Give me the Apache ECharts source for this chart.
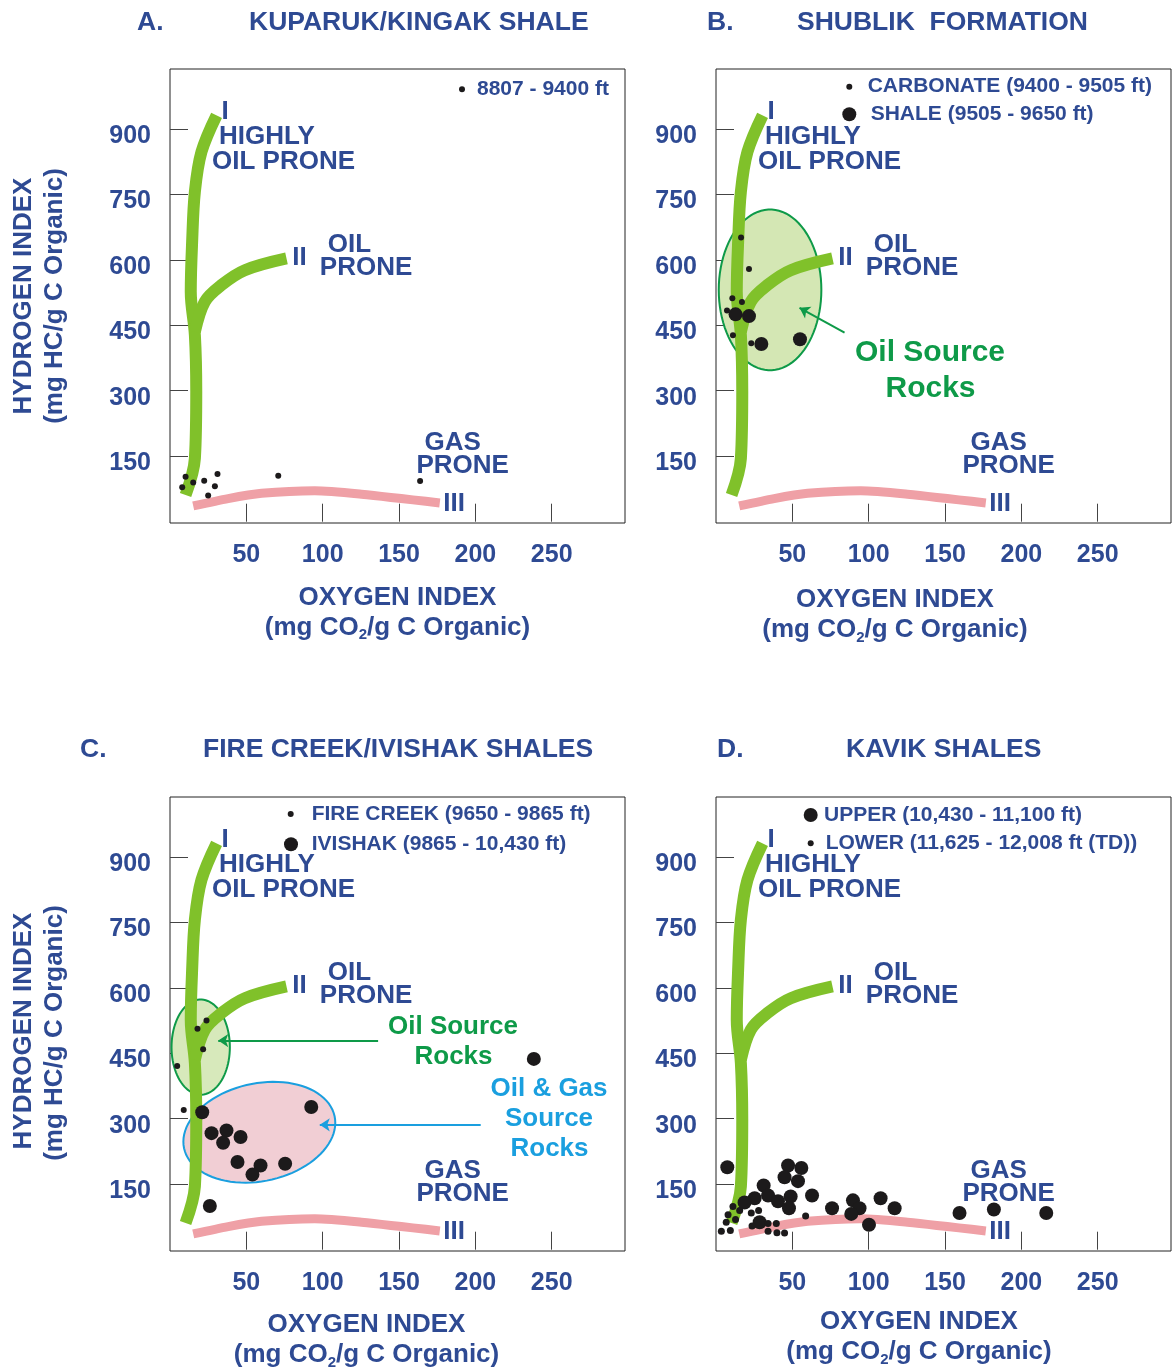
<!DOCTYPE html>
<html>
<head>
<meta charset="utf-8">
<script src="https://cdn.jsdelivr.net/npm/echarts@6/dist/echarts.min.js"></script>
<style>
  html, body { margin: 0; padding: 0; background: #fff; }
  #main { width: 1175px; height: 1372px; }
</style>
</head>
<body>
<div id="main"></div>
<script>
// axis ticks
var xTicks = [50, 100, 150, 200, 250];
var yTicks = [150, 300, 450, 600, 750, 900];

// kerogen type reference curves [OI, HI]
var typeI = [[10.2, 61], [16.3, 145], [17.2, 298], [16.3, 427], [13.6, 527], [14.5, 641], [16.3, 756], [20.6, 847], [30.5, 931]];
var typeII = [[16.3, 435], [22.8, 504], [33.7, 542], [49, 576], [76.3, 603]];
var typeIII = [[15.2, 36], [38.1, 53], [60, 65], [94.8, 71], [125.4, 63], [176.7, 43]];

// A. Kuparuk/Kingak shale
var kuparuk = [[10.2, 103], [8, 79], [15.2, 90], [22.4, 94], [31.1, 109], [29.4, 81], [25, 60], [70.9, 105], [163.8, 93]];
// B. Shublik formation
var carbonate = [[16.4, 651], [21.6, 579], [10.7, 512], [17, 503], [7.2, 484], [11.1, 427], [23.1, 409]];
var shale = [[12.8, 475], [21.6, 471], [29.7, 407], [55, 418]];
// C. Fire Creek/Ivishak shales
var fireCreek = [[23.9, 525], [18, 506], [21.7, 459], [4.7, 421], [9, 320]];
var ivishak = [[21.1, 315], [92.5, 327], [27.2, 267], [37, 273], [34.8, 245], [46.2, 258], [44.2, 201], [59.3, 193],
  [54, 172], [75.4, 197], [26.1, 100], [238.3, 437]];
// D. Kavik shales
var kavikUpper = [[7.4, 189], [47.2, 193], [55.9, 187], [44.9, 166], [53.7, 157], [31.2, 147], [34.1, 124], [25.3, 118],
  [18.7, 108], [40.6, 111], [48.9, 122], [47.8, 95], [62.9, 124], [76, 95], [89.7, 113], [94, 95], [88.6, 82],
  [107.8, 118], [117, 95], [100.2, 57], [28.6, 63], [159.5, 84], [182, 92], [216.3, 84]];
var kavikLower = [[3.5, 42], [9.4, 44], [6.7, 63], [12.8, 69], [7.9, 80], [11.1, 99], [15.5, 90], [23.1, 84], [27.9, 90],
  [23.6, 54], [34.1, 60], [39.5, 60], [34.1, 42], [39.9, 39], [44.9, 38], [58.7, 77]];

// source rock fields [OI, HI, radius OI, radius HI, tilt deg]
var oilSourceB = [[35.4, 531, 33.6, 184, 0]];
var oilSourceC = [[20.1, 464, 19.1, 109, 0]];
var oilGasSourceC = [[58.5, 269, 50.4, 112, 12]];
var arrowB = [[84.2, 433], [54.7, 490]];
var arrowOilC = [[136.3, 479], [31.6, 479]];
var arrowGasC = [[203.5, 286], [98.1, 286]];

var BLUE = '#2e4a93';
var GREEN = '#0e9a48';
var CYAN = '#1a9fdf';
var FONT = '"Liberation Sans", Arial, sans-serif';

var panels = [
  { left: 170, top: 69 },
  { left: 716, top: 69 },
  { left: 170, top: 797 },
  { left: 716, top: 797 }
];

var chart = echarts.init(document.getElementById('main'));

var grids = [], xAxes = [], yAxes = [], series = [], graphics = [];

panels.forEach(function (p, i) {
  grids.push({ left: p.left, top: p.top, width: 455, height: 454, show: true, borderColor: '#222', borderWidth: 1 });
  xAxes.push({
    type: 'value', gridIndex: i, min: 0, max: 298,
    axisLine: { show: false }, splitLine: { show: false },
    axisTick: { inside: true, length: 18, customValues: xTicks, lineStyle: { color: '#444' } },
    axisLabel: { customValues: xTicks, margin: 20, color: BLUE, fontSize: 25, fontWeight: 'bold', fontFamily: FONT }
  });
  yAxes.push({
    type: 'value', gridIndex: i, min: -3, max: 1037,
    axisLine: { show: false }, splitLine: { show: false },
    axisTick: { inside: true, length: 18, customValues: yTicks, lineStyle: { color: '#444' } },
    axisLabel: { customValues: yTicks, margin: 19, verticalAlign: 'top', lineHeight: 14,
      color: BLUE, fontSize: 25, fontWeight: 'bold', fontFamily: FONT }
  });
  // reference curves
  [typeI, typeII].forEach(function (c) {
    series.push({ type: 'line', xAxisIndex: i, yAxisIndex: i, data: c, smooth: 0.35, symbol: 'none', silent: true,
      lineStyle: { color: '#80c12a', width: 12, cap: 'butt' }, z: 3 });
  });
  series.push({ type: 'line', xAxisIndex: i, yAxisIndex: i, data: typeIII, smooth: 0.25, symbol: 'none', silent: true,
    lineStyle: { color: '#efa0a6', width: 9, cap: 'butt' }, z: 3 });
});

function ellipse(idx, data, fill, stroke) {
  return {
    type: 'custom', xAxisIndex: idx, yAxisIndex: idx, data: data, silent: true, z: 2,
    renderItem: function (params, api) {
      var c = api.coord([api.value(0), api.value(1)]);
      var s = api.size([api.value(2), api.value(3)]);
      var a = api.value(4) * Math.PI / 180;
      var pts = [];
      for (var k = 0; k < 90; k++) {
        var t = k / 90 * Math.PI * 2;
        var ex = s[0] * Math.cos(t), ey = s[1] * Math.sin(t);
        pts.push([c[0] + ex * Math.cos(a) + ey * Math.sin(a), c[1] - ex * Math.sin(a) + ey * Math.cos(a)]);
      }
      return { type: 'polygon', shape: { points: pts }, style: { fill: fill, stroke: stroke, lineWidth: 2 } };
    }
  };
}

function dots(idx, name, data, size) {
  return { type: 'scatter', name: name, xAxisIndex: idx, yAxisIndex: idx, data: data, symbolSize: size,
    itemStyle: { color: '#1c1a1b', opacity: 1 }, silent: true, z: 5 };
}

function arrow(idx, coords, color) {
  return { type: 'lines', coordinateSystem: 'cartesian2d', xAxisIndex: idx, yAxisIndex: idx, silent: true, z: 4,
    symbol: ['none', 'arrow'], symbolSize: 10, lineStyle: { color: color, width: 2, opacity: 1 },
    data: [{ coords: coords }] };
}

series.push(ellipse(1, oilSourceB, '#d4e7b4', GREEN));
series.push(ellipse(2, oilSourceC, '#d7e9bb', GREEN));
series.push(ellipse(2, oilGasSourceC, '#f1ced4', CYAN));
series.push(arrow(1, arrowB, GREEN));
series.push(arrow(2, arrowOilC, GREEN));
series.push(arrow(2, arrowGasC, CYAN));
series.push(dots(0, '8807 - 9400 ft', kuparuk, 6));
series.push(dots(1, 'CARBONATE (9400 - 9505 ft)', carbonate, 6));
series.push(dots(1, 'SHALE (9505 - 9650 ft)', shale, 14));
series.push(dots(2, 'FIRE CREEK (9650 - 9865 ft)', fireCreek, 6));
series.push(dots(2, 'IVISHAK (9865 - 10,430 ft)', ivishak, 14));
series.push(dots(3, 'UPPER (10,430 - 11,100 ft)', kavikUpper, 14));
series.push(dots(3, 'LOWER (11,625 - 12,008 ft (TD))', kavikLower, 7));

function txt(x, y, text, size, color, align, extra) {
  var el = { type: 'text', x: x, y: y, silent: true, z: 10,
    style: { text: text, fill: color || BLUE, fontSize: size, fontWeight: 'bold', fontFamily: FONT,
      align: align || 'left', verticalAlign: 'middle' } };
  if (extra) Object.keys(extra).forEach(function (k) { el[k] = extra[k]; });
  return el;
}

// panel titles
[[137, 23, 'A.'], [249, 23, 'KUPARUK/KINGAK SHALE'], [707, 23, 'B.'], [797, 23, 'SHUBLIK  FORMATION'],
 [80, 750, 'C.'], [203, 750, 'FIRE CREEK/IVISHAK SHALES'], [717, 750, 'D.'], [846, 750, 'KAVIK SHALES']]
  .forEach(function (t) { graphics.push(txt(t[0], t[1], t[2], 26.5)); });

// kerogen labels, same spot in every panel
var kerogenLabels = [[51.6, 43, 'I'], [49, 68.3, 'HIGHLY'], [42, 92.7, 'OIL PRONE'], [122.3, 189.3, 'II'],
  [157.8, 176, 'OIL'], [149.8, 199.3, 'PRONE'], [254.6, 374.3, 'GAS'], [246.4, 397, 'PRONE'], [273.3, 435.3, 'III']];
panels.forEach(function (p) {
  kerogenLabels.forEach(function (t) { graphics.push(txt(p.left + t[0], p.top + t[1], t[2], 26)); });
});

// axis names
var sub = { s: { fontSize: 15, fontWeight: 'bold', fontFamily: FONT, fill: BLUE, verticalAlign: 'bottom', lineHeight: 15 } };
[[397.5, 597.5], [895, 600], [366.5, 1325], [919, 1322]].forEach(function (c) {
  graphics.push(txt(c[0], c[1], 'OXYGEN INDEX', 26, BLUE, 'center'));
  var el = txt(c[0], c[1] + 30, '(mg CO{s|2}/g C Organic)', 26, BLUE, 'center');
  el.style.rich = sub;
  el.style.lineHeight = 30;
  graphics.push(el);
});
[[296, 296], [1031, 1033]].forEach(function (c) {
  graphics.push(txt(24, c[0], 'HYDROGEN INDEX', 26, BLUE, 'center', { rotation: Math.PI / 2 }));
  graphics.push(txt(55, c[1], '(mg HC/g C Organic)', 26, BLUE, 'center', { rotation: Math.PI / 2 }));
});

// legends
[[462, 89.3, 3, 477, '8807 - 9400 ft'],
 [849.3, 86.7, 3, 867.7, 'CARBONATE (9400 - 9505 ft)'], [849.3, 114.3, 7, 870.7, 'SHALE (9505 - 9650 ft)'],
 [290.7, 814, 3, 311.7, 'FIRE CREEK (9650 - 9865 ft)'], [291, 844.3, 7, 311.7, 'IVISHAK (9865 - 10,430 ft)'],
 [810.7, 815, 7, 824, 'UPPER (10,430 - 11,100 ft)'], [810.7, 843.3, 3, 825.7, 'LOWER (11,625 - 12,008 ft (TD))']]
  .forEach(function (l) {
    graphics.push({ type: 'circle', silent: true, z: 10, shape: { cx: l[0], cy: l[1], r: l[2] }, style: { fill: '#1c1a1b' } });
    graphics.push(txt(l[3], l[1], l[4], 21));
  });

// source rock annotations
graphics.push(txt(930, 352.3, 'Oil Source', 30, GREEN, 'center'));
graphics.push(txt(930.5, 388.3, 'Rocks', 30, GREEN, 'center'));
graphics.push(txt(453, 1027.3, 'Oil Source', 26, GREEN, 'center'));
graphics.push(txt(453.5, 1056.7, 'Rocks', 26, GREEN, 'center'));
graphics.push(txt(549, 1089, 'Oil & Gas', 26, CYAN, 'center'));
graphics.push(txt(549, 1119.3, 'Source', 26, CYAN, 'center'));
graphics.push(txt(549.5, 1149, 'Rocks', 26, CYAN, 'center'));

chart.setOption({
  animation: false,
  backgroundColor: '#fff',
  grid: grids,
  xAxis: xAxes,
  yAxis: yAxes,
  series: series,
  graphic: graphics
});
window.addEventListener('resize', function () { chart.resize(); });
</script>
</body>
</html>
